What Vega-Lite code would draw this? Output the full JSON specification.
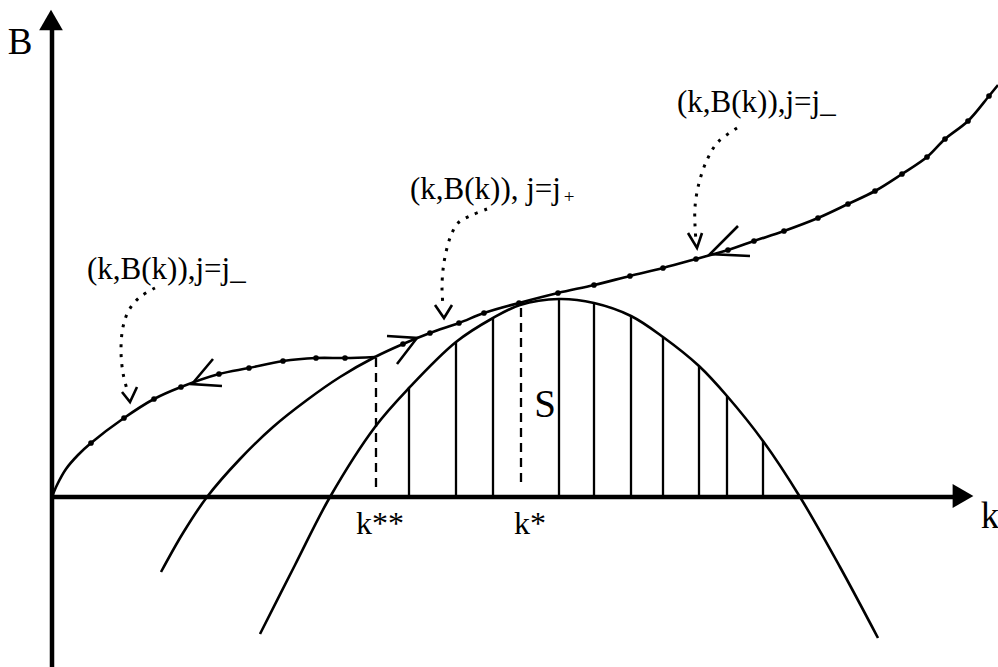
{
 "$schema": "https://vega.github.io/schema/vega-lite/v6.json",
 "width": 998, "height": 667,
 "autosize": {"type": "none"},
 "padding": 0,
 "background": "white",
 "config": {"view": {"stroke": null}},
 "datasets": {
  "paths": [
   {"g":"axis","id":"xaxis","o":0,"k":0,"B":0},{"g":"axis","id":"xaxis","o":1,"k":902,"B":0},
   {"g":"axis","id":"yaxis","o":0,"k":0,"B":-170},{"g":"axis","id":"yaxis","o":1,"k":0,"B":468},

   {"g":"curve","id":"A","o":0,"k":0,"B":0},{"g":"curve","id":"A","o":1,"k":5,"B":12},{"g":"curve","id":"A","o":2,"k":14,"B":28},{"g":"curve","id":"A","o":3,"k":26,"B":42},{"g":"curve","id":"A","o":4,"k":39,"B":54},{"g":"curve","id":"A","o":5,"k":72,"B":79},{"g":"curve","id":"A","o":6,"k":102,"B":98},{"g":"curve","id":"A","o":7,"k":129,"B":110},{"g":"curve","id":"A","o":8,"k":167,"B":123},{"g":"curve","id":"A","o":9,"k":197,"B":129},{"g":"curve","id":"A","o":10,"k":231,"B":136},{"g":"curve","id":"A","o":11,"k":264,"B":139},{"g":"curve","id":"A","o":12,"k":293,"B":139},{"g":"curve","id":"A","o":13,"k":323,"B":140},

   {"g":"curve","id":"Bc","o":0,"k":109,"B":-75},{"g":"curve","id":"Bc","o":1,"k":131,"B":-36},{"g":"curve","id":"Bc","o":2,"k":155,"B":0},{"g":"curve","id":"Bc","o":3,"k":188,"B":38},{"g":"curve","id":"Bc","o":4,"k":221,"B":70},{"g":"curve","id":"Bc","o":5,"k":255,"B":97},{"g":"curve","id":"Bc","o":6,"k":288,"B":120},{"g":"curve","id":"Bc","o":7,"k":323,"B":140},{"g":"curve","id":"Bc","o":8,"k":351,"B":153},{"g":"curve","id":"Bc","o":9,"k":378,"B":164},{"g":"curve","id":"Bc","o":10,"k":407,"B":174},{"g":"curve","id":"Bc","o":11,"k":432,"B":184},{"g":"curve","id":"Bc","o":12,"k":467,"B":194},{"g":"curve","id":"Bc","o":13,"k":506,"B":204},{"g":"curve","id":"Bc","o":14,"k":542,"B":212},{"g":"curve","id":"Bc","o":15,"k":578,"B":221},{"g":"curve","id":"Bc","o":16,"k":611,"B":229},{"g":"curve","id":"Bc","o":17,"k":644,"B":238},{"g":"curve","id":"Bc","o":18,"k":676,"B":247},{"g":"curve","id":"Bc","o":19,"k":702,"B":256},{"g":"curve","id":"Bc","o":20,"k":732,"B":266},{"g":"curve","id":"Bc","o":21,"k":766,"B":279},{"g":"curve","id":"Bc","o":22,"k":796,"B":293},{"g":"curve","id":"Bc","o":23,"k":823,"B":306},{"g":"curve","id":"Bc","o":24,"k":850,"B":323},{"g":"curve","id":"Bc","o":25,"k":875,"B":340},{"g":"curve","id":"Bc","o":26,"k":893,"B":358},{"g":"curve","id":"Bc","o":27,"k":916,"B":376},{"g":"curve","id":"Bc","o":28,"k":937,"B":401},{"g":"curve","id":"Bc","o":29,"k":946,"B":412},

   {"g":"curve","id":"C","o":0,"k":208,"B":-137},{"g":"curve","id":"C","o":1,"k":243,"B":-68},{"g":"curve","id":"C","o":2,"k":278,"B":0},{"g":"curve","id":"C","o":3,"k":323,"B":70},{"g":"curve","id":"C","o":4,"k":357,"B":109},{"g":"curve","id":"C","o":5,"k":404,"B":155},{"g":"curve","id":"C","o":6,"k":441,"B":179},{"g":"curve","id":"C","o":7,"k":468,"B":192},{"g":"curve","id":"C","o":8,"k":507,"B":198},{"g":"curve","id":"C","o":9,"k":542,"B":194},{"g":"curve","id":"C","o":10,"k":579,"B":181},{"g":"curve","id":"C","o":11,"k":611,"B":160},{"g":"curve","id":"C","o":12,"k":647,"B":131},{"g":"curve","id":"C","o":13,"k":675,"B":101},{"g":"curve","id":"C","o":14,"k":711,"B":56},{"g":"curve","id":"C","o":15,"k":748,"B":0},{"g":"curve","id":"C","o":16,"k":788,"B":-70},{"g":"curve","id":"C","o":17,"k":826,"B":-141},

   {"g":"chev","id":"c1","o":0,"k":161,"B":138},{"g":"chev","id":"c1","o":1,"k":140,"B":113},{"g":"chev","id":"c1","o":2,"k":170,"B":111},
   {"g":"chev","id":"c2","o":0,"k":335,"B":161},{"g":"chev","id":"c2","o":1,"k":365,"B":159},{"g":"chev","id":"c2","o":2,"k":345,"B":133},
   {"g":"chev","id":"c3","o":0,"k":686,"B":271},{"g":"chev","id":"c3","o":1,"k":658,"B":243},{"g":"chev","id":"c3","o":2,"k":698,"B":241},
   {"g":"chev","id":"h1","o":0,"k":70,"B":105},{"g":"chev","id":"h1","o":1,"k":78,"B":95},{"g":"chev","id":"h1","o":2,"k":85,"B":110},
   {"g":"chev","id":"h2","o":0,"k":383,"B":192},{"g":"chev","id":"h2","o":1,"k":392,"B":179},{"g":"chev","id":"h2","o":2,"k":400,"B":192},
   {"g":"chev","id":"h3","o":0,"k":636,"B":264},{"g":"chev","id":"h3","o":1,"k":645,"B":249},{"g":"chev","id":"h3","o":2,"k":650,"B":264},

   {"g":"dot","id":"d1","o":0,"k":103,"B":209},{"g":"dot","id":"d1","o":1,"k":88,"B":200},{"g":"dot","id":"d1","o":2,"k":77,"B":187},{"g":"dot","id":"d1","o":3,"k":71,"B":170},{"g":"dot","id":"d1","o":4,"k":69,"B":147},{"g":"dot","id":"d1","o":5,"k":71,"B":124},{"g":"dot","id":"d1","o":6,"k":76,"B":104},
   {"g":"dot","id":"d2","o":0,"k":435,"B":288},{"g":"dot","id":"d2","o":1,"k":420,"B":282},{"g":"dot","id":"d2","o":2,"k":406,"B":274},{"g":"dot","id":"d2","o":3,"k":398,"B":259},{"g":"dot","id":"d2","o":4,"k":393,"B":240},{"g":"dot","id":"d2","o":5,"k":391,"B":227},{"g":"dot","id":"d2","o":6,"k":390,"B":210},{"g":"dot","id":"d2","o":7,"k":391,"B":190},
   {"g":"dot","id":"d3","o":0,"k":685,"B":369},{"g":"dot","id":"d3","o":1,"k":666,"B":355},{"g":"dot","id":"d3","o":2,"k":655,"B":337},{"g":"dot","id":"d3","o":3,"k":647,"B":314},{"g":"dot","id":"d3","o":4,"k":643,"B":290},{"g":"dot","id":"d3","o":5,"k":643,"B":272},{"g":"dot","id":"d3","o":6,"k":644,"B":256}
  ],
  "hatch": [
   {"k":357,"base":0,"top":109},{"k":404,"base":0,"top":155},{"k":441,"base":0,"top":179},{"k":507,"base":0,"top":198},{"k":542,"base":0,"top":194},{"k":579,"base":0,"top":181},{"k":611,"base":0,"top":160},{"k":647,"base":0,"top":131},{"k":675,"base":0,"top":101},{"k":711,"base":0,"top":56}
  ],
  "dashes": [
   {"k":324,"lo":10,"hi":140},{"k":469,"lo":15,"hi":194}
  ],
  "dots": [
   {"k":39,"B":54},{"k":72,"B":79},{"k":102,"B":98},{"k":129,"B":110},{"k":167,"B":123},{"k":197,"B":129},{"k":231,"B":136},{"k":264,"B":139},{"k":293,"B":139},
   {"k":351,"B":153},{"k":378,"B":164},{"k":407,"B":174},{"k":432,"B":184},{"k":467,"B":194},{"k":506,"B":204},{"k":542,"B":212},{"k":578,"B":221},{"k":611,"B":229},{"k":644,"B":238},{"k":676,"B":247},{"k":702,"B":256},{"k":732,"B":266},{"k":766,"B":279},{"k":796,"B":293},{"k":823,"B":306},{"k":850,"B":323},{"k":875,"B":340},{"k":893,"B":358},{"k":916,"B":376},{"k":937,"B":401}
  ],
  "labels": [
   {"role":"axis","t":"B","k":-32,"B":443},
   {"role":"axis","t":"k","k":938,"B":-31},
   {"role":"note","t":"(k,B(k)),j=j_","k":35,"B":218},
   {"role":"note","t":"(k,B(k)), j=j","k":358,"B":298},
   {"role":"note","t":"(k,B(k)),j=j_","k":625,"B":385},
   {"role":"tick","t":"k**","k":328,"B":-37},
   {"role":"tick","t":"k*","k":478,"B":-37},
   {"role":"area","t":"S","k":493,"B":80},
   {"role":"sub","t":"+","k":517,"B":300}
  ]
 },
 "layer": [
  {
   "data": {"name": "hatch"},
   "mark": {"type": "rule", "stroke": "black", "strokeWidth": 2.3},
   "encoding": {
    "x": {"field": "k", "type": "quantitative", "scale": {"domain": [-52, 946], "nice": false, "zero": false}, "axis": null},
    "y": {"field": "base", "type": "quantitative", "scale": {"domain": [-170, 497], "nice": false, "zero": false}, "axis": null},
    "y2": {"field": "top"}
   }
  },
  {
   "data": {"name": "dashes"},
   "mark": {"type": "rule", "stroke": "black", "strokeWidth": 2.3, "strokeDash": [9, 6]},
   "encoding": {
    "x": {"field": "k", "type": "quantitative"},
    "y": {"field": "lo", "type": "quantitative"},
    "y2": {"field": "hi"}
   }
  },
  {
   "data": {"name": "paths"},
   "transform": [{"filter": "datum.g == 'axis'"}],
   "mark": {"type": "line", "stroke": "black", "strokeWidth": 4.5},
   "encoding": {
    "x": {"field": "k", "type": "quantitative"},
    "y": {"field": "B", "type": "quantitative"},
    "detail": {"field": "id"},
    "order": {"field": "o"}
   }
  },
  {
   "data": {"name": "paths"},
   "transform": [{"filter": "datum.g == 'curve'"}],
   "mark": {"type": "line", "stroke": "black", "strokeWidth": 2.6, "interpolate": "catmull-rom"},
   "encoding": {
    "x": {"field": "k", "type": "quantitative"},
    "y": {"field": "B", "type": "quantitative"},
    "detail": {"field": "id"},
    "order": {"field": "o"}
   }
  },
  {
   "data": {"name": "paths"},
   "transform": [{"filter": "datum.g == 'chev'"}],
   "mark": {"type": "line", "stroke": "black", "strokeWidth": 2.6},
   "encoding": {
    "x": {"field": "k", "type": "quantitative"},
    "y": {"field": "B", "type": "quantitative"},
    "detail": {"field": "id"},
    "order": {"field": "o"}
   }
  },
  {
   "data": {"name": "paths"},
   "transform": [{"filter": "datum.g == 'dot'"}],
   "mark": {"type": "line", "stroke": "black", "strokeWidth": 3, "strokeDash": [3, 7], "interpolate": "catmull-rom"},
   "encoding": {
    "x": {"field": "k", "type": "quantitative"},
    "y": {"field": "B", "type": "quantitative"},
    "detail": {"field": "id"},
    "order": {"field": "o"}
   }
  },
  {
   "data": {"name": "dots"},
   "mark": {"type": "point", "filled": true, "color": "black", "opacity": 1, "size": 32},
   "encoding": {
    "x": {"field": "k", "type": "quantitative"},
    "y": {"field": "B", "type": "quantitative"}
   }
  },
  {
   "data": {"values": [{"k": -1, "B": 477}]},
   "mark": {"type": "point", "shape": "triangle-up", "filled": true, "color": "black", "opacity": 1, "size": 560},
   "encoding": {
    "x": {"field": "k", "type": "quantitative"},
    "y": {"field": "B", "type": "quantitative"}
   }
  },
  {
   "data": {"values": [{"k": 911, "B": 1}]},
   "mark": {"type": "point", "shape": "triangle-right", "filled": true, "color": "black", "opacity": 1, "size": 576},
   "encoding": {
    "x": {"field": "k", "type": "quantitative"},
    "y": {"field": "B", "type": "quantitative"}
   }
  },
  {
   "data": {"name": "labels"},
   "transform": [{"filter": "datum.role == 'axis'"}],
   "mark": {"type": "text", "font": "Liberation Serif", "fontSize": 37, "align": "center", "baseline": "alphabetic", "color": "black"},
   "encoding": {
    "x": {"field": "k", "type": "quantitative"},
    "y": {"field": "B", "type": "quantitative"},
    "text": {"field": "t"}
   }
  },
  {
   "data": {"name": "labels"},
   "transform": [{"filter": "datum.role == 'note'"}],
   "mark": {"type": "text", "font": "Liberation Serif", "fontSize": 31, "align": "left", "baseline": "alphabetic", "color": "black"},
   "encoding": {
    "x": {"field": "k", "type": "quantitative"},
    "y": {"field": "B", "type": "quantitative"},
    "text": {"field": "t"}
   }
  },
  {
   "data": {"name": "labels"},
   "transform": [{"filter": "datum.role == 'sub'"}],
   "mark": {"type": "text", "font": "Liberation Serif", "fontSize": 19, "align": "center", "baseline": "middle", "color": "black"},
   "encoding": {
    "x": {"field": "k", "type": "quantitative"},
    "y": {"field": "B", "type": "quantitative"},
    "text": {"field": "t"}
   }
  },
  {
   "data": {"name": "labels"},
   "transform": [{"filter": "datum.role == 'tick'"}],
   "mark": {"type": "text", "font": "Liberation Serif", "fontSize": 32, "align": "center", "baseline": "alphabetic", "color": "black"},
   "encoding": {
    "x": {"field": "k", "type": "quantitative"},
    "y": {"field": "B", "type": "quantitative"},
    "text": {"field": "t"}
   }
  },
  {
   "data": {"name": "labels"},
   "transform": [{"filter": "datum.role == 'area'"}],
   "mark": {"type": "text", "font": "Liberation Serif", "fontSize": 39, "align": "center", "baseline": "alphabetic", "color": "black"},
   "encoding": {
    "x": {"field": "k", "type": "quantitative"},
    "y": {"field": "B", "type": "quantitative"},
    "text": {"field": "t"}
   }
  }
 ]
}
